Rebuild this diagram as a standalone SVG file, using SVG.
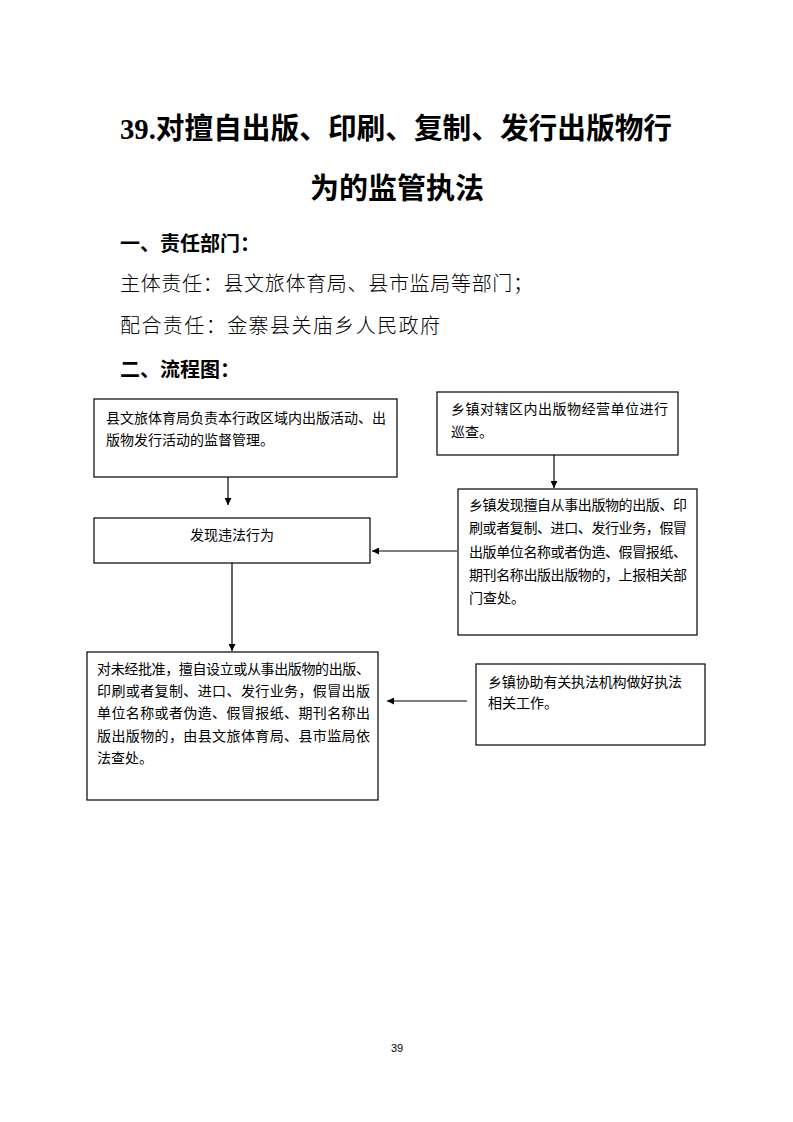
<svg xmlns="http://www.w3.org/2000/svg" width="793" height="1122" viewBox="0 0 793 1122">
<defs>
<style>
.title{font-family:"Liberation Serif","Noto Sans CJK SC",serif;font-weight:bold;font-size:29px;fill:#000}
.head{font-family:"Noto Sans CJK SC",sans-serif;font-weight:bold;font-size:20px;fill:#000}
.body{font-family:"Noto Sans CJK SC",sans-serif;font-size:20px;fill:#000;font-weight:300}
.box{fill:#fff;stroke:#000;stroke-width:1.2}
.t{font-family:"Noto Sans CJK SC",sans-serif;font-size:14px;fill:#000}
.c{stroke:#000;stroke-width:1.2;fill:none;marker-end:url(#ah)}
.pn{font-family:"Liberation Sans",sans-serif;font-size:11px;fill:#000}
</style>
<marker id="ah" viewBox="0 0 10 10" refX="10" refY="5" markerWidth="7" markerHeight="7" markerUnits="userSpaceOnUse" orient="auto">
<path d="M0,0 L10,5 L0,10 z" fill="#000"/>
</marker>
</defs>
<rect width="793" height="1122" fill="#fff"/>
<g id="header">
<text class="title" x="120" y="139" textLength="552" lengthAdjust="spacingAndGlyphs">39.对擅自出版、印刷、复制、发行出版物行</text>
<text class="title" x="397" y="199" text-anchor="middle">为的监管执法</text>
<text class="head" x="120" y="251">一、责任部门：</text>
<text class="body" x="120" y="291" textLength="413">主体责任：县文旅体育局、县市监局等部门；</text>
<text class="body" x="120" y="333" textLength="320">配合责任：金寨县关庙乡人民政府</text>
<text class="head" x="120" y="377">二、流程图：</text>
</g>
<g id="connectors">
<line class="c" x1="228" y1="477" x2="228" y2="505"/>
<line class="c" x1="554" y1="455" x2="554" y2="488"/>
<line class="c" x1="457" y1="551" x2="372" y2="551"/>
<line class="c" x1="232" y1="563" x2="232" y2="651"/>
<line class="c" x1="467" y1="701" x2="387" y2="701"/>
</g>
<g id="node1">
<rect class="box" x="94" y="399" width="303" height="78"/>
<text class="t" x="106" y="423" textLength="280">县文旅体育局负责本行政区域内出版活动、出</text>
<text class="t" x="106" y="445">版物发行活动的监督管理。</text>
</g>
<g id="node2">
<rect class="box" x="94" y="518" width="276" height="45"/>
<text class="t" x="232" y="540" text-anchor="middle">发现违法行为</text>
</g>
<g id="node3">
<rect class="box" x="437" y="392" width="241" height="63"/>
<text class="t" x="451" y="414" textLength="217">乡镇对辖区内出版物经营单位进行</text>
<text class="t" x="451" y="437">巡查。</text>
</g>
<g id="node4">
<rect class="box" x="458" y="489" width="239" height="146"/>
<text class="t" x="469" y="510" textLength="218">乡镇发现擅自从事出版物的出版、印</text>
<text class="t" x="469" y="533" textLength="218">刷或者复制、进口、发行业务，假冒</text>
<text class="t" x="469" y="557" textLength="218">出版单位名称或者伪造、假冒报纸、</text>
<text class="t" x="469" y="580" textLength="218">期刊名称出版出版物的，上报相关部</text>
<text class="t" x="469" y="603">门查处。</text>
</g>
<g id="node5">
<rect class="box" x="87" y="652" width="291" height="148"/>
<text class="t" x="97" y="674" textLength="273">对未经批准，擅自设立或从事出版物的出版、</text>
<text class="t" x="97" y="696" textLength="273">印刷或者复制、进口、发行业务，假冒出版</text>
<text class="t" x="97" y="718" textLength="273">单位名称或者伪造、假冒报纸、期刊名称出</text>
<text class="t" x="97" y="741" textLength="273">版出版物的，由县文旅体育局、县市监局依</text>
<text class="t" x="97" y="763">法查处。</text>
</g>
<g id="node6">
<rect class="box" x="476" y="664" width="229" height="81"/>
<text class="t" x="488" y="687" textLength="194">乡镇协助有关执法机构做好执法</text>
<text class="t" x="488" y="708">相关工作。</text>
</g>
<text class="pn" x="397" y="1052" text-anchor="middle">39</text>
</svg>
